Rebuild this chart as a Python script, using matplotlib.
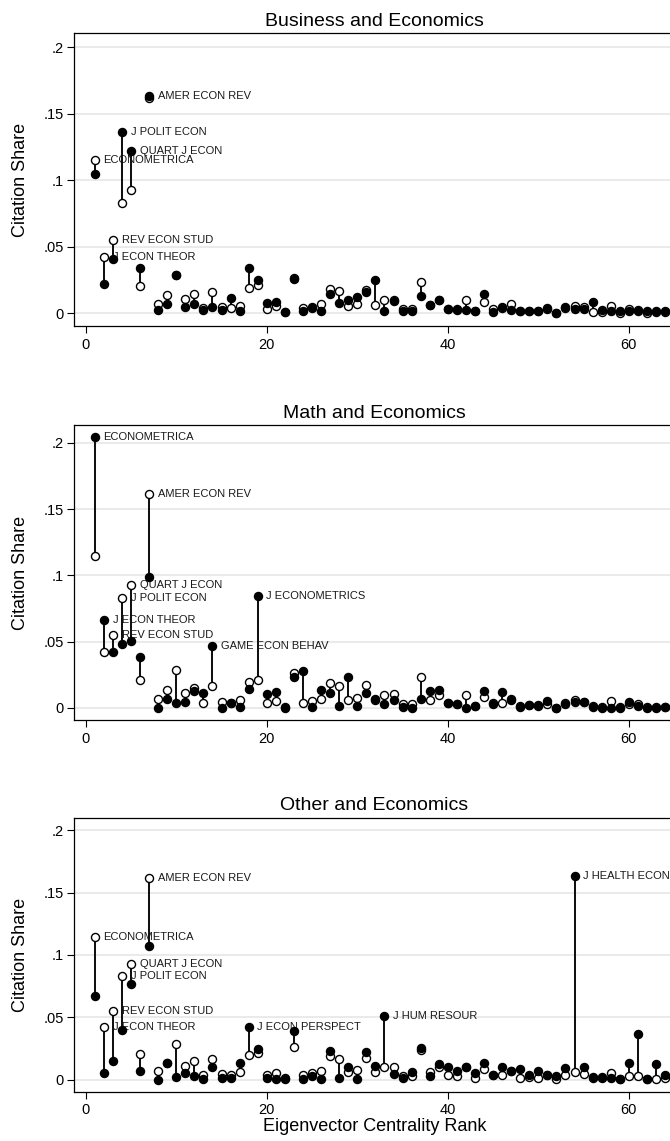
import matplotlib
matplotlib.use("Agg")
import matplotlib.pyplot as plt
import numpy as np

plt.rcParams['font.family'] = ['Liberation Sans', 'DejaVu Sans']

# ---------------- data ----------------
ranks = list(range(1, 65))

# economics citation share (hollow markers), common to all panels
econ_share = [
    0.1148, 0.0420, 0.0550, 0.0830, 0.0925, 0.0207, 0.1615, 0.0067, 0.0135, 0.0289,
    0.0110, 0.0148, 0.0040, 0.0164, 0.0047, 0.0040, 0.0057, 0.0194, 0.0210, 0.0035,
    0.0053, 0.0010, 0.0263, 0.0040, 0.0050, 0.0070, 0.0185, 0.0168, 0.0057, 0.0073,
    0.0174, 0.0062, 0.0097, 0.0102, 0.0030, 0.0030, 0.0237, 0.0060, 0.0100, 0.0035,
    0.0030, 0.0097, 0.0016, 0.0086, 0.0035, 0.0040, 0.0071, 0.0016, 0.0020, 0.0016,
    0.0033, 0.0003, 0.0040, 0.0058, 0.0045, 0.0012, 0.0010, 0.0055, 0.0005, 0.0030,
    0.0027, 0.0005, 0.0008, 0.0010,
]

business_share = [
    0.1050, 0.0219, 0.0405, 0.1360, 0.1220, 0.0343, 0.1630, 0.0025, 0.0070, 0.0286,
    0.0047, 0.0070, 0.0025, 0.0047, 0.0025, 0.0114, 0.0020, 0.0338, 0.0248, 0.0080,
    0.0087, 0.0010, 0.0260, 0.0020, 0.0040, 0.0020, 0.0142, 0.0080, 0.0099, 0.0120,
    0.0160, 0.0254, 0.0020, 0.0092, 0.0020, 0.0020, 0.0130, 0.0060, 0.0102, 0.0030,
    0.0025, 0.0025, 0.0020, 0.0144, 0.0007, 0.0050, 0.0025, 0.0020, 0.0020, 0.0020,
    0.0040, 0.0005, 0.0050, 0.0030, 0.0030, 0.0087, 0.0025, 0.0020, 0.0020, 0.0020,
    0.0020, 0.0020, 0.0020, 0.0020,
]

math_share = [
    0.2040, 0.0663, 0.0420, 0.0485, 0.0505, 0.0385, 0.0990, 0.0003, 0.0066, 0.0038,
    0.0046, 0.0128, 0.0110, 0.0467, 0.0000, 0.0038, 0.0008, 0.0143, 0.0846, 0.0102,
    0.0117, 0.0000, 0.0230, 0.0276, 0.0008, 0.0135, 0.0115, 0.0013, 0.0230, 0.0015,
    0.0115, 0.0064, 0.0028, 0.0059, 0.0008, 0.0003, 0.0071, 0.0128, 0.0135, 0.0038,
    0.0033, 0.0003, 0.0013, 0.0130, 0.0026, 0.0122, 0.0059, 0.0008, 0.0020, 0.0020,
    0.0051, 0.0000, 0.0033, 0.0046, 0.0046, 0.0008, 0.0000, 0.0003, 0.0000, 0.0046,
    0.0013, 0.0003, 0.0000, 0.0008,
]

other_share = [
    0.0667, 0.0054, 0.0150, 0.0398, 0.0767, 0.0067, 0.1075, 0.0000, 0.0134, 0.0022,
    0.0056, 0.0027, 0.0008, 0.0102, 0.0013, 0.0013, 0.0129, 0.0420, 0.0245, 0.0013,
    0.0008, 0.0003, 0.0392, 0.0005, 0.0030, 0.0005, 0.0228, 0.0010, 0.0097, 0.0008,
    0.0223, 0.0110, 0.0513, 0.0048, 0.0016, 0.0062, 0.0255, 0.0030, 0.0121, 0.0102,
    0.0067, 0.0102, 0.0056, 0.0129, 0.0035, 0.0097, 0.0067, 0.0083, 0.0035, 0.0070,
    0.0040, 0.0027, 0.0089, 0.1630, 0.0097, 0.0022, 0.0022, 0.0013, 0.0003, 0.0134,
    0.0366, 0.0003, 0.0121, 0.0040,
]

panel_titles = ["Business and Economics", "Math and Economics", "Other and Economics"]

business_labels = [(1, "ECONOMETRICA"), (2, "J ECON THEOR"), (3, "REV ECON STUD"),
                   (4, "J POLIT ECON"), (5, "QUART J ECON"), (7, "AMER ECON REV")]
math_labels = [(1, "ECONOMETRICA"), (2, "J ECON THEOR"), (3, "REV ECON STUD"),
               (4, "J POLIT ECON"), (5, "QUART J ECON"), (7, "AMER ECON REV"),
               (14, "GAME ECON BEHAV"), (19, "J ECONOMETRICS")]
other_labels = [(1, "ECONOMETRICA"), (2, "J ECON THEOR"), (3, "REV ECON STUD"),
                (4, "J POLIT ECON"), (5, "QUART J ECON"), (7, "AMER ECON REV"),
                (18, "J ECON PERSPECT"), (33, "J HUM RESOUR"), (54, "J HEALTH ECON")]

y_ticks = [0, 0.05, 0.10, 0.15, 0.20]
y_ticklabels = ["0", ".05", ".1", ".15", ".2"]
x_ticks = [0, 20, 40, 60]

# ---------------- figure ----------------
W, H = 670, 1141
fig = plt.figure(figsize=(W / 100, H / 100), dpi=100)

# (top px, bottom px, ymin, ymax) of each plot region
boxes = [(33.3, 326.3, -0.0097, 0.2103),
         (425.0, 720.4, -0.0094, 0.2134),
         (817.7, 1092.0, -0.0100, 0.2102)]
left_px, right_px = 74.0, 675.0
ax_w = right_px - left_px

panels = [(business_share, business_labels),
          (math_share, math_labels),
          (other_share, other_labels)]

for i, ((field, labels), (top, bot, ylo, yhi)) in enumerate(zip(panels, boxes)):
    ax = fig.add_axes([left_px / W, 1 - bot / H, ax_w / W, (bot - top) / H])
    ax.set_xlim(-1.3, 65.1)
    ax.set_ylim(ylo, yhi)

    e = np.array(econ_share)
    f = np.array(field)
    r = np.array(ranks)

    for yv in y_ticks:
        ax.axhline(yv, color="#e4e4e4", lw=1.1, zorder=0)

    ax.vlines(r, np.minimum(e, f), np.maximum(e, f), color="#111111", lw=1.45, zorder=2)
    ax.plot(r, e, linestyle="none", marker="o", ms=5.8, mfc="white", mec="black",
            mew=1.0, zorder=3)
    ax.plot(r, f, linestyle="none", marker="o", ms=5.8, mfc="black", mec="black",
            mew=1.0, zorder=4)

    for rk, txt in labels:
        yv = max(e[rk - 1], f[rk - 1])
        ax.annotate(txt, (rk, yv), xytext=(6.3, 0), textcoords="offset points",
                    ha="left", va="center", fontsize=8.0, color="#1a1a1a", zorder=1,
                    annotation_clip=False)

    ax.set_title(panel_titles[i], fontsize=14, pad=5.4)
    ax.set_yticks(y_ticks)
    ax.set_yticklabels(y_ticklabels)
    ax.set_xticks(x_ticks)
    ax.tick_params(axis="x", direction="out", length=4.8, width=0.8,
                   labelsize=10.5, pad=3.4, colors="black")
    ax.tick_params(axis="y", direction="out", length=4.8, width=0.8,
                   labelsize=10.5, pad=2.4, colors="black")
    ax.set_ylabel("Citation Share", fontsize=13)
    ax.yaxis.set_label_coords((29 - left_px) / ax_w, 0.5)
    if i == 2:
        ax.set_xlabel("Eigenvector Centrality Rank", fontsize=13, labelpad=0.5)

    for s in ["left", "top", "bottom"]:
        ax.spines[s].set_linewidth(0.9)
        ax.spines[s].set_color("black")
    ax.spines["right"].set_visible(False)

fig.savefig("out.png", dpi=100, facecolor="white")
